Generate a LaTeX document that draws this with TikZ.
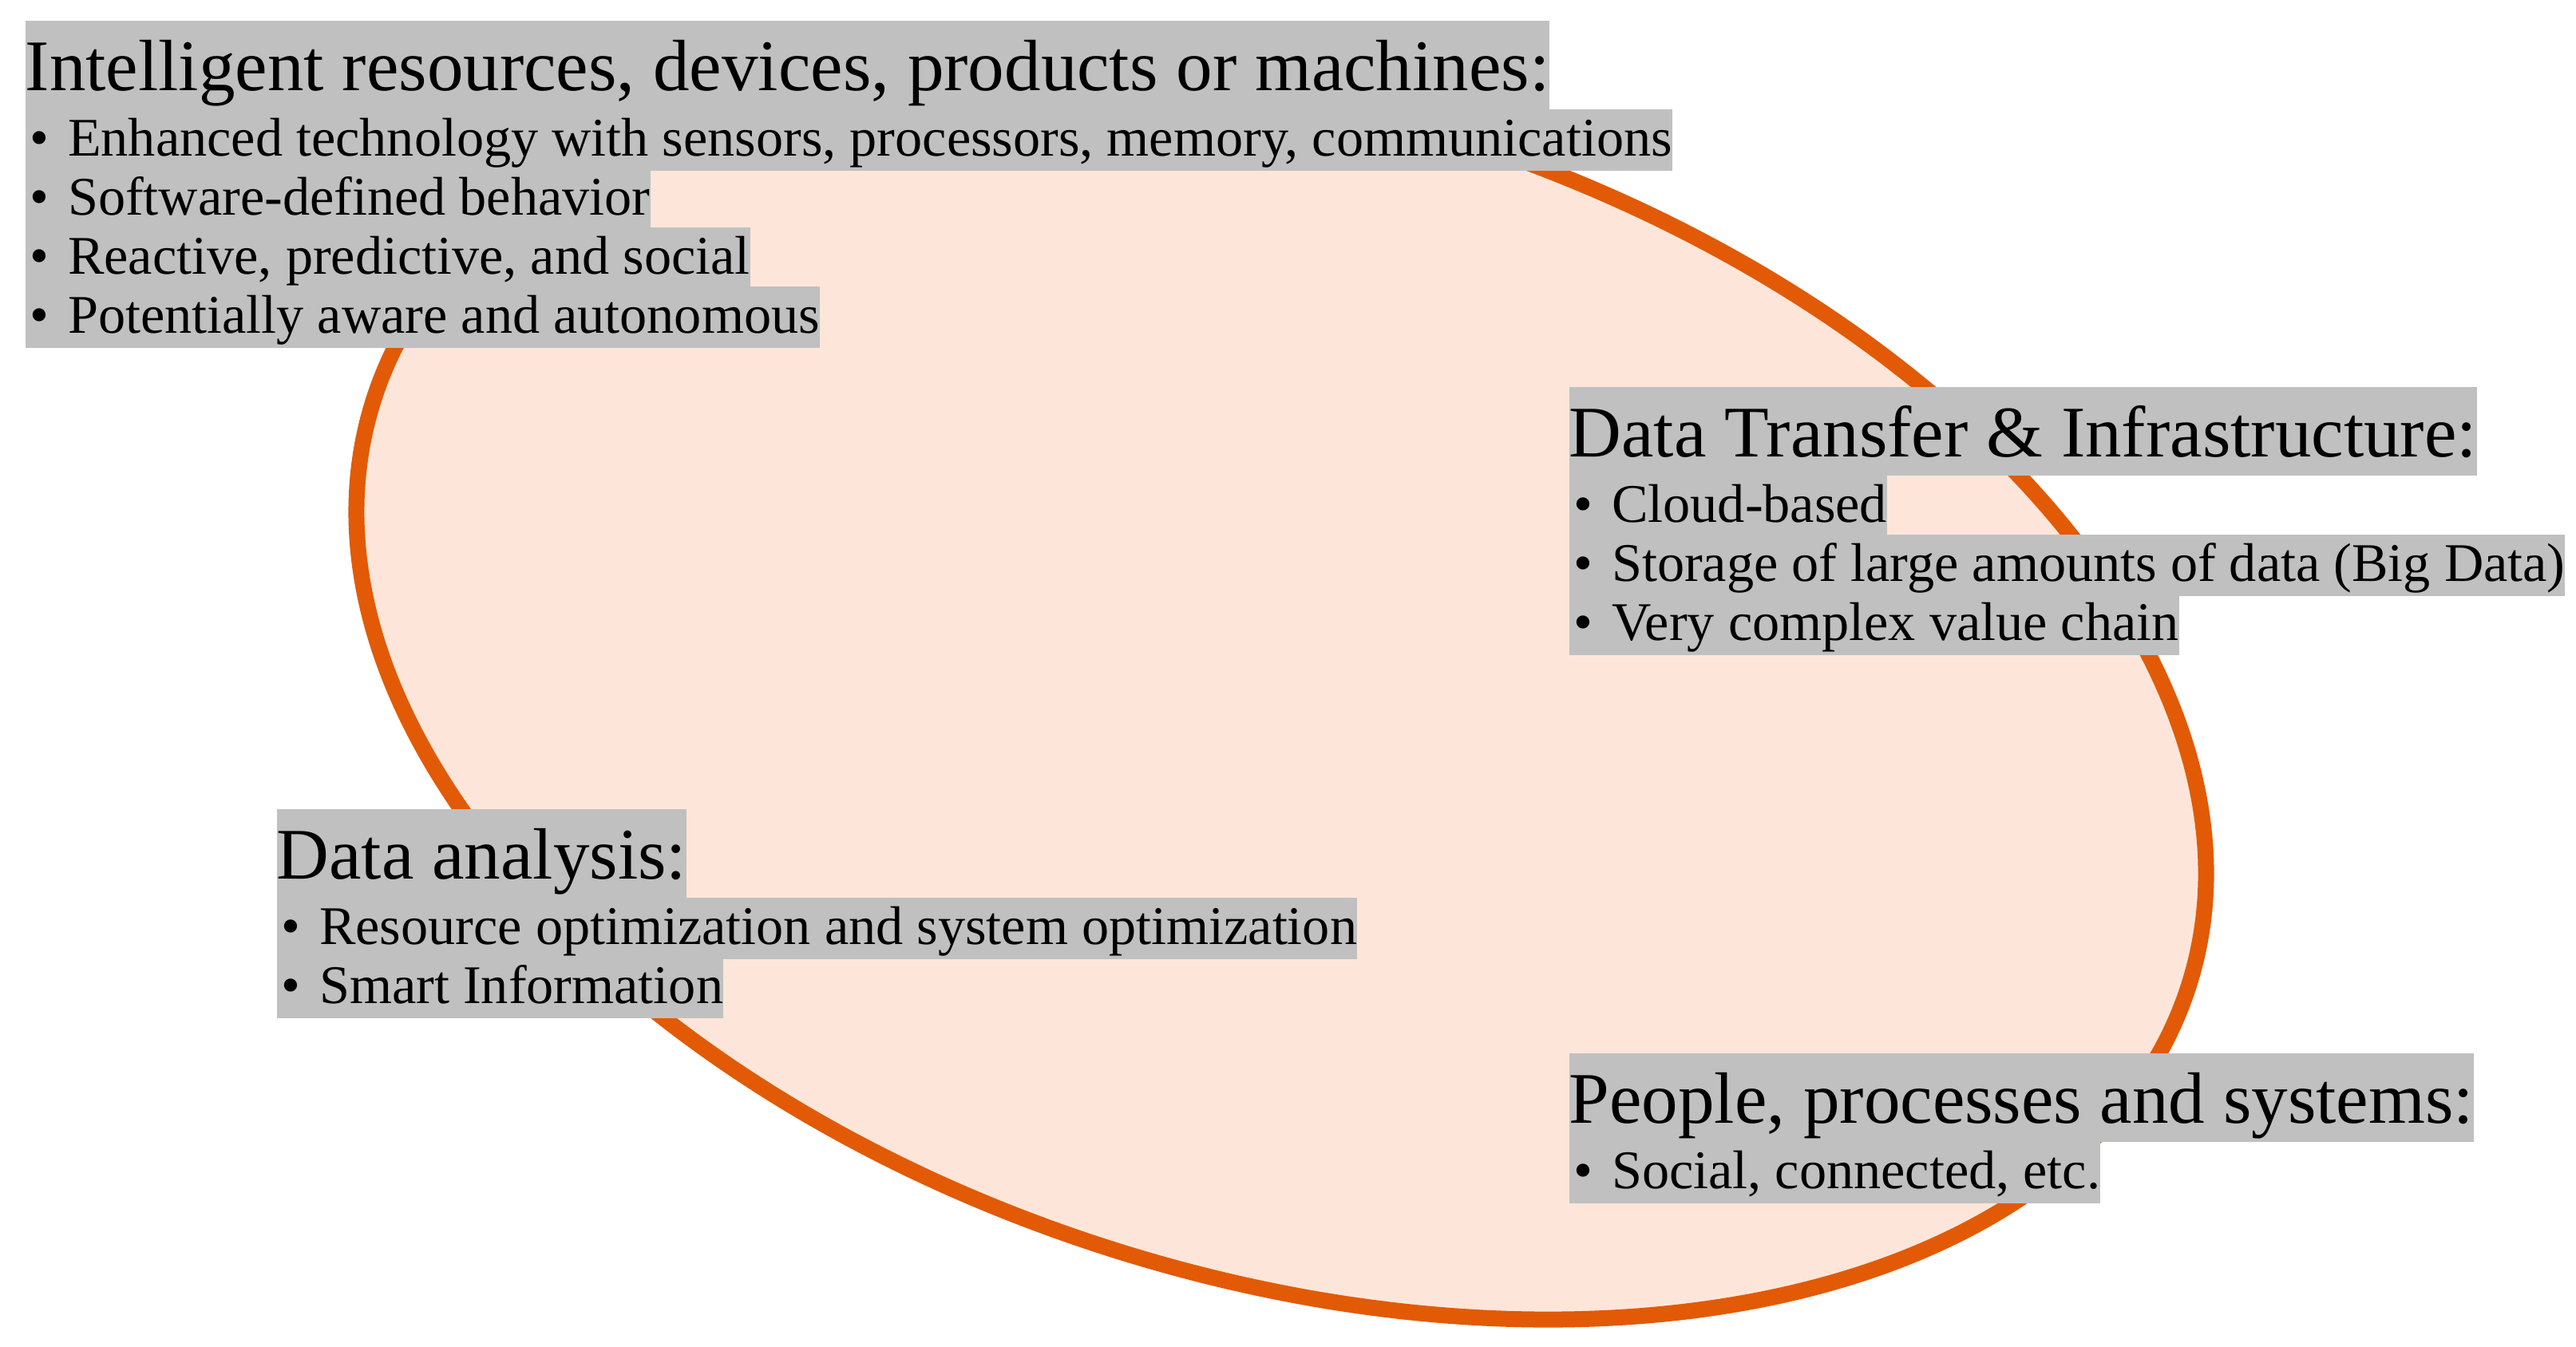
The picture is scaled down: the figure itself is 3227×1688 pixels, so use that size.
\documentclass[tikz,border=0pt]{standalone}
\usepackage{fontspec}
\setmainfont{Liberation Serif}
\definecolor{hlgray}{HTML}{C0C0C0}
\definecolor{peach}{HTML}{FDE6D9}
\definecolor{rimorange}{HTML}{E25A05}
\newcommand{\myblt}{\makebox[0.535cm][l]{\hspace{0.06cm}\textbullet}}
\begin{document}
\begin{tikzpicture}[x=0.01cm,y=-0.01cm,
  hlrow/.style={fill=hlgray, inner xsep=0pt, inner ysep=0pt, anchor=north west, align=left},
  ttlrow/.style={hlrow, text height=0.88cm, text depth=0.23cm, font=\fontsize{25.9}{30}\selectfont},
  itmrow/.style={hlrow, text height=0.59cm, text depth=0.18cm, font=\fontsize{19.4}{23}\selectfont},
  rim/.style={draw=rimorange, fill=peach, line width=0.2cm}]
\useasboundingbox (0,0) rectangle (3227,1688);
\fill[white] (0,0) rectangle (3227,1688);
% ellipse
\draw[rim, rotate around={-18:(1605,868)}] (1605,868) ellipse [x radius=11.94cm, y radius=7.285cm];
% box 1
\node[ttlrow] (t1) at (31,25) {Intelligent resources, devices, products or machines:};
\node[itmrow] (t1a) at (31,136) {\myblt Enhanced technology with sensors, processors, memory, communications};
\node[itmrow] (t1b) at (31,210) {\myblt Software-defined behavior};
\node[itmrow] (t1c) at (31,284) {\myblt Reactive, predictive, and social};
\node[itmrow] (t1d) at (31,358) {\myblt Potentially aware and autonomous};
% box 2
\node[ttlrow] (t2) at (1965,484) {Data Transfer \& Infrastructure:};
\node[itmrow] (t2a) at (1965,595) {\myblt Cloud-based};
\node[itmrow] (t2b) at (1965,669) {\myblt Storage of large amounts of data (Big Data)};
\node[itmrow] (t2c) at (1965,743) {\myblt Very complex value chain};
% box 3
\node[ttlrow] (t3) at (346,1013) {Data analysis:};
\node[itmrow] (t3a) at (346,1124) {\myblt Resource optimization and system optimization};
\node[itmrow] (t3b) at (346,1198) {\myblt Smart Information};
% box 4
\node[ttlrow] (t4) at (1965,1319) {People, processes and systems:};
\node[itmrow] (t4a) at (1965,1430) {\myblt Social, connected, etc.};
\end{tikzpicture}
\end{document}
